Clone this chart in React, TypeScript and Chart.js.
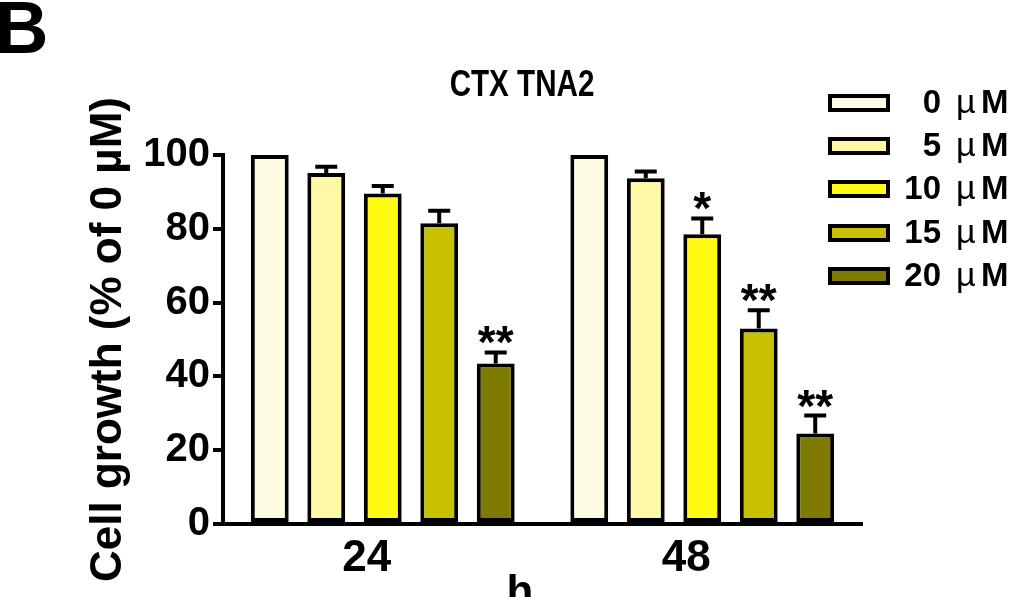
import { useEffect, useRef } from "react";
import { Chart, registerables } from "chart.js";

Chart.register(...registerables);

const hours = ["24", "48"];
const doses = ["0 µM", "5 µM", "10 µM", "15 µM", "20 µM"];

// mean cell growth (% of 0 µM), one value per time point
const growth0 = [100, 100];
const growth5 = [95.1, 93.7];
const growth10 = [89.6, 78.5];
const growth15 = [81.5, 53.0];
const growth20 = [43.5, 24.5];

// upper error bars
const err0 = [0, 0];
const err5 = [1.7, 1.8];
const err10 = [2.0, 4.3];
const err15 = [3.4, 4.9];
const err20 = [3.0, 4.9];

// significance marks
const sig0 = ["", ""];
const sig5 = ["", ""];
const sig10 = ["", "*"];
const sig15 = ["", "**"];
const sig20 = ["**", "**"];

const fills = ["#FFFCE4", "#FFF9A6", "#FFFA10", "#C8C000", "#7F7A00"];

const REG = '"Liberation Sans", Arial, sans-serif';

const values = [growth0, growth5, growth10, growth15, growth20];
const errors = [err0, err5, err10, err15, err20];
const marks = [sig0, sig5, sig10, sig15, sig20];

const errorBars = {
  id: "errorBars",
  afterDatasetsDraw(chart: any) {
    const { ctx } = chart;
    const y = chart.scales.y;
    ctx.save();
    ctx.strokeStyle = "#000";
    ctx.fillStyle = "#000";
    ctx.lineWidth = 4;
    values.forEach((vals, i) => {
      const meta = chart.getDatasetMeta(i);
      meta.data.forEach((bar: any, j: number) => {
        const e = errors[i][j];
        const top = y.getPixelForValue(vals[j] + e);
        if (e > 0) {
          ctx.beginPath();
          ctx.moveTo(bar.x, bar.y);
          ctx.lineTo(bar.x, top);
          ctx.moveTo(bar.x - 11, top);
          ctx.lineTo(bar.x + 11, top);
          ctx.stroke();
        }
        const s = marks[i][j];
        if (s) {
          ctx.font = `bold 46px ${REG}`;
          ctx.textAlign = "center";
          ctx.textBaseline = "alphabetic";
          ctx.fillText(s, bar.x, top + 6);
        }
      });
    });
    ctx.restore();
  },
};

const decorations = {
  id: "decorations",
  afterDraw(chart: any) {
    const { ctx } = chart;
    ctx.save();
    ctx.fillStyle = "#000";
    ctx.textBaseline = "alphabetic";

    ctx.textAlign = "left";
    ctx.font = `bold 74px ${REG}`;
    ctx.fillText("B", -5, 53);

    // condensed title, like the original figure
    ctx.save();
    ctx.translate(522, 96);
    ctx.scale(0.8, 1);
    ctx.textAlign = "center";
    ctx.font = `bold 37px ${REG}`;
    ctx.fillText("CTX TNA2", 0, 0);
    ctx.restore();

    ctx.textAlign = "center";
    ctx.font = `bold 44px ${REG}`;
    ctx.fillText("h", 520, 606);

    // legend
    const rows = [103, 146, 189, 233, 276];
    rows.forEach((cy, i) => {
      ctx.fillStyle = fills[i];
      ctx.fillRect(828, cy - 9, 62, 18);
      ctx.strokeStyle = "#000";
      ctx.lineWidth = 4;
      ctx.strokeRect(830, cy - 7, 58, 14);
      const [num] = doses[i].split(" ");
      ctx.fillStyle = "#000";
      ctx.textBaseline = "middle";
      ctx.textAlign = "right";
      ctx.font = `bold 33px ${REG}`;
      ctx.fillText(num, 941, cy + 1);
      ctx.textAlign = "left";
      ctx.font = `34px ${REG}`;
      ctx.fillText("µ", 956, cy + 1);
      ctx.font = `bold 33px ${REG}`;
      ctx.fillText("M", 981, cy + 1);
    });
    ctx.restore();
  },
};

export default function App() {
  const canvasRef = useRef<HTMLCanvasElement>(null);
  const chartRef = useRef<Chart | null>(null);

  useEffect(() => {
    if (!canvasRef.current) return;
    if (chartRef.current) chartRef.current.destroy();

    chartRef.current = new Chart(canvasRef.current, {
      type: "bar",
      data: {
        labels: hours,
        datasets: values.map((vals, i) => ({
          label: doses[i],
          data: vals,
          backgroundColor: fills[i],
          borderColor: "#000",
          borderWidth: 4,
          borderSkipped: false,
          categoryPercentage: 0.884,
          barPercentage: 0.67,
        })),
      },
      options: {
        responsive: true,
        maintainAspectRatio: false,
        animation: false,
        layout: { padding: { top: 155, right: 173, bottom: 0, left: 0 } },
        plugins: {
          legend: { display: false },
          tooltip: { enabled: false },
          title: { display: false },
        },
        scales: {
          x: {
            type: "category",
            grid: { display: false, drawTicks: false },
            border: { display: true, color: "#000", width: 4 },
            ticks: {
              color: "#000",
              font: { family: REG, size: 44, weight: "bold" },
              padding: 8,
              labelOffset: -16,
            },
            afterFit: (scale: any) => {
              scale.height = 73;
            },
          },
          y: {
            min: 0,
            max: 100,
            border: { display: true, color: "#000", width: 4 },
            grid: {
              drawOnChartArea: false,
              drawTicks: true,
              tickLength: 10,
              tickWidth: 4,
              tickColor: "#000",
              color: "#000",
              lineWidth: 4,
            },
            ticks: {
              stepSize: 20,
              color: "#000",
              padding: 3,
              font: { family: REG, size: 40, weight: "bold" },
            },
            title: {
              display: true,
              text: "Cell growth (% of 0 µM)",
              color: "#000",
              font: { family: REG, size: 44, weight: "bold" },
              padding: { top: 82, bottom: 0 },
            },
            afterFit: (scale: any) => {
              scale.width = 223;
            },
          },
        },
      },
      plugins: [errorBars, decorations],
    });

    return () => {
      if (chartRef.current) {
        chartRef.current.destroy();
        chartRef.current = null;
      }
    };
  }, []);

  return (
    <div style={{ position: "fixed", left: 0, top: 0, width: 1035, height: 597, background: "#fff" }}>
      <canvas ref={canvasRef} />
    </div>
  );
}
